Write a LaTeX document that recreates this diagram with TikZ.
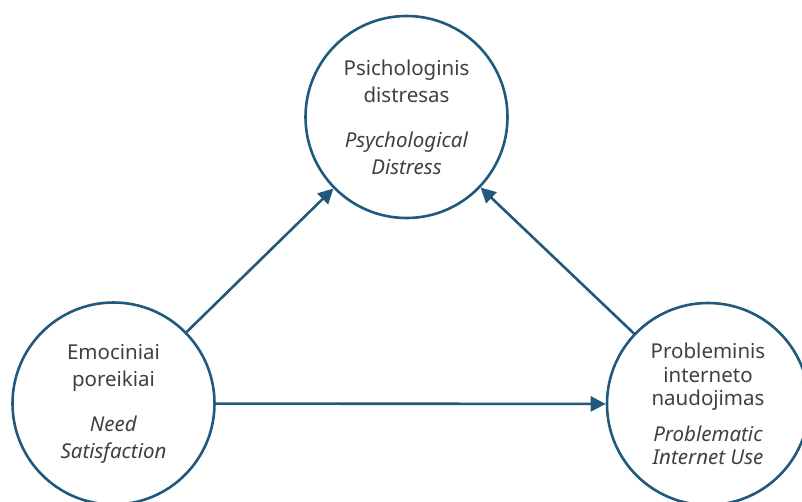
\documentclass[tikz,border=0pt]{standalone}
\usepackage{fontspec}
\setmainfont{Noto Sans}
\usetikzlibrary{arrows.meta}
\definecolor{cblue}{HTML}{1F5A7C}
\definecolor{ctext}{HTML}{404040}
\begin{document}
\begin{tikzpicture}[x=1pt,y=-1pt,
  circ/.style={circle, draw=cblue, line width=2.6pt, minimum size=202pt, inner sep=0pt, text=ctext, align=center, font=\fontsize{20.5}{27}\selectfont},
  circtight/.style={circ, font=\fontsize{20.5}{23.5}\selectfont},
  arr/.style={draw=cblue, line width=2.6pt, -{Triangle[length=15pt,width=15pt]}}]
\useasboundingbox (0,0) rectangle (802,501);
\node[circ] (pd) at (406.5,117) {Psichologinis\\distresas\\[18pt]\textit{Psychological}\\\textit{Distress}};
\node[circ] (ns) at (113.5,403.5) {Emociniai\\poreikiai\\[18pt]\textit{Need}\\\textit{Satisfaction}};
\node[circtight] (piu) at (708,404) {Probleminis\\interneto\\naudojimas\\[12pt]\textit{Problematic}\\\textit{Internet Use}};
\draw[arr] (ns) -- (pd);
\draw[arr] (piu) -- (pd);
\draw[arr] (ns) -- (piu);
\end{tikzpicture}
\end{document}
